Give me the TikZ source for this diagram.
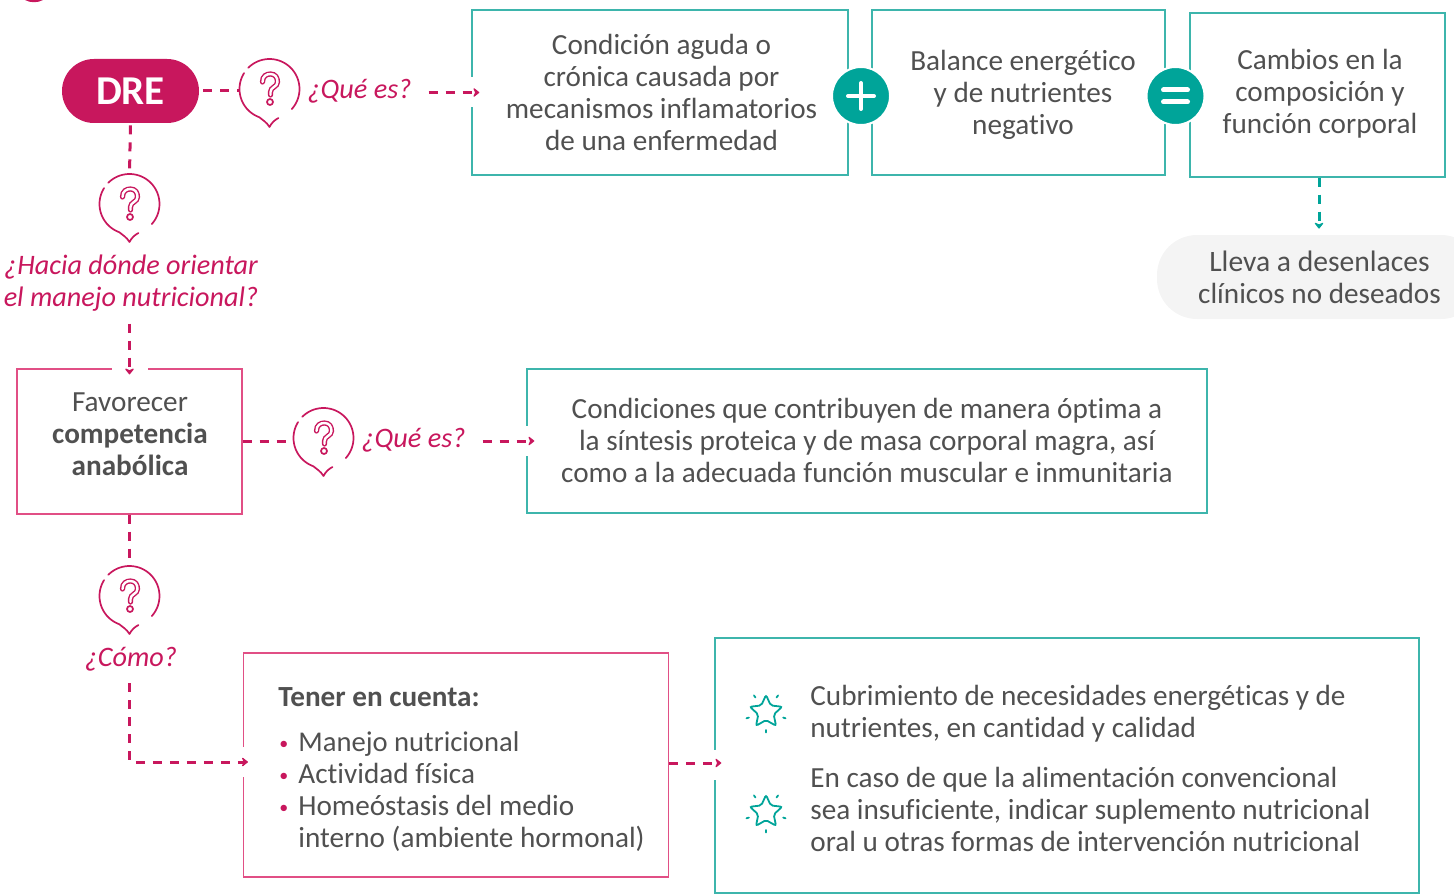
\documentclass[tikz,border=0pt]{standalone}
\usepackage{fontspec}
\setmainfont[Ligatures=NoCommon]{Carlito}
\usetikzlibrary{arrows.meta,shapes.geometric}
\definecolor{dreRed}{HTML}{C8175D}
\definecolor{tealDark}{HTML}{00A499}
\definecolor{tealLine}{HTML}{3DB5AC}
\definecolor{pinkLine}{HTML}{E14F85}
\definecolor{bodyGray}{HTML}{505050}
\definecolor{pillGray}{HTML}{F4F4F4}
\tikzset{
  tealbox/.style={draw=tealLine, line width=0.7pt, minimum height=#1, inner sep=0pt},
  pinkbox/.style={draw=pinkLine, line width=0.6pt, minimum height=#1, inner sep=0pt},
  bodytxt/.style={text=bodyGray, font=\fontsize{14.6}{16}\selectfont, align=center, inner sep=0pt},
  asktxt/.style={text=dreRed, font=\fontsize{14.1}{16}\selectfont\itshape, align=center, inner sep=0pt},
  pinkdash/.style={draw=dreRed, line width=1.5pt, dash pattern=on 4.5pt off 4pt},
  tealdash/.style={draw=tealDark, line width=1.5pt, dash pattern=on 4.5pt off 4pt},
  tipped/.style={-{Stealth[length=3.5pt,width=5.5pt,inset=1.2pt,round]}},
  gapcut/.style={draw=white, line width=2pt},
  opnode/.style={circle, fill=tealDark, draw=white, line width=1pt, minimum size=29pt, inner sep=0pt},
  qnode/.style={circle, minimum size=30pt, inner sep=0pt},
  qline/.style={draw=dreRed, line width=0.85pt, line cap=round, line join=round},
  starnode/.style={star, star points=5, star point ratio=2.1, draw=tealDark, line width=0.9pt,
    rounded corners=1pt, minimum size=17pt, inner sep=0pt}
}
\begin{document}
\begin{tikzpicture}[x=0.5pt, y=-0.5pt]
\useasboundingbox (0,0) rectangle (1454,893);
\fill[dreRed] (25,0) .. controls (30,3) and (38,3) .. (43,0) -- cycle;

% top row
\node[tealbox=82.5pt, minimum width=188pt] (cond) at (660,92.5) {};
\node[tealbox=82.5pt, minimum width=146.5pt] (bal) at (1018.5,92.5) {};
\node[tealbox=82pt, minimum width=127.5pt] (camb) at (1317.5,95) {};
\node[bodytxt] at (661.5,92) {Condición aguda o\\crónica causada por\\mecanismos inflamatorios\\de una enfermedad};
\node[bodytxt] at (1023,95) {Balance energético\\y de nutrientes\\negativo};
\node[bodytxt] at (1320,94) {Cambios en la\\composición y\\función corporal};
\node[opnode] (plus) at (861,96) {};
\draw[white, line width=2pt, line cap=round] (848,96) -- (874,96) (861,83) -- (861,109);
\node[opnode] (equal) at (1175.5,96) {};
\draw[white, line width=2.5pt, line cap=round] (1163.5,90) -- (1187.5,90) (1163.5,102) -- (1187.5,102);

\node[fill=pillGray, rounded corners=20pt, minimum width=162pt, minimum height=42pt, inner sep=0pt] (pill) at (1319,277) {};
\path[fill=white] (1454,220) rectangle (1500,330);
\node[bodytxt] (lleva) at (1319.5,277) {\fontsize{14.8}{16}\selectfont Lleva a desenlaces\\clínicos no deseados};
\draw[tealdash, tipped, shorten >=3pt] (camb.south -| pill) -- (pill.north);

% DRE
\node[fill=dreRed, text=white, rounded corners=16pt, minimum width=68.5pt, minimum height=32pt,
  inner sep=0pt, font=\fontsize{20.5}{22}\selectfont\bfseries] (dre) at (130.5,91) {DRE};

% question bubbles
\foreach \nm/\cx/\cy in {qa/269.5/89, qb/129.5/204, qc/323.5/438, qd/129.5/596} {
  \begin{scope}[shift={(\cx,\cy)}]
    \node[qnode] (\nm) at (0,0) {};
    \draw[qline] plot[domain=42:-135, samples=40] ({30*cos(\x)},{30*sin(\x)});
    \draw[qline] plot[domain=212:110, samples=30] ({30*cos(\x)},{30*sin(\x)})
      .. controls (-7,31) and (-3,33) .. (0,38) .. controls (2,34) and (5,31) .. (9,29);
    \draw[draw=dreRed, line width=0.7pt, double=white, double distance=1.2pt, line cap=round]
      (-7,-7) .. controls (-7,-13) and (-3,-15) .. (1,-15) .. controls (6,-15) and (8,-11) .. (8,-7)
      .. controls (8,-2) and (1,-2) .. (1,3) -- (1,6);
    \draw[qline] (0.5,13) circle[radius=3];
  \end{scope}
}

\node[asktxt] (askqa) at (359.5,91) {¿Qué es?};
\node[asktxt] (askqb) at (131,283) {¿Hacia dónde orientar\\el manejo nutricional?};
\node[asktxt] (askqc) at (413.5,440) {¿Qué es?};
\node[asktxt] (askqd) at (131,659) {¿Cómo?};

% middle row
\node[pinkbox=72.5pt, minimum width=112.5pt] (fav) at (129.5,441.5) {};
\node[bodytxt] at (130,434) {Favorecer\\\textbf{competencia}\\\textbf{anabólica}};
\node[tealbox=72pt, minimum width=340pt] (cdn) at (867,441) {};
\node[bodytxt] at (867,440) {Condiciones que contribuyen de manera óptima a\\la síntesis proteica y de masa corporal magra, así\\como a la adecuada función muscular e inmunitaria};

% bottom row
\node[pinkbox=112pt, minimum width=212.5pt] (ten) at (456,765) {};
\node[tealbox=127.5pt, minimum width=352pt] (cub) at (1067,765.5) {};
\node[bodytxt, anchor=west, font=\fontsize{14.6}{16}\selectfont\bfseries] (tentit) at (278,697) {Tener en cuenta:};
\node[bodytxt, anchor=north west, align=left] (tenlist) at (298,731) {%
  \fontsize{14.3}{16}\selectfont
  \llap{\textcolor{dreRed}{\raisebox{1pt}{\small•}}\hspace{5pt}}Manejo nutricional\\
  \llap{\textcolor{dreRed}{\raisebox{1pt}{\small•}}\hspace{5pt}}Actividad física\\
  \llap{\textcolor{dreRed}{\raisebox{1pt}{\small•}}\hspace{5pt}}Homeóstasis del medio\\
  interno (ambiente hormonal)};
\node[bodytxt, anchor=west, align=left] at (810,714) {Cubrimiento de necesidades energéticas y de\\nutrientes, en cantidad y calidad};
\node[bodytxt, anchor=west, align=left] at (810,809) {En caso de que la alimentación convencional\\sea insuficiente, indicar suplemento nutricional\\oral u otras formas de intervención nutricional};
\foreach \nm/\cy in {stara/712, starb/812} {
  \node[starnode] (\nm) at (766,\cy) {};
  \foreach \a in {18,90,162,234,306}
    \draw[draw=tealDark, line width=0.9pt, line cap=round] (\nm.center) ++(\a:18) -- ++(\a:2.5);
}

% gaps in the box edges
\draw[gapcut] ([yshift=7.5pt]cond.west) -- ([yshift=-7.5pt]cond.west);
\draw[gapcut] ([yshift=7.5pt]cdn.west) -- ([yshift=-7.5pt]cdn.west);
\draw[gapcut] ([xshift=-9pt]fav.north) -- ([xshift=9pt]fav.north);
\draw[gapcut] ([yshift=9pt]ten.west) -- ([yshift=-6pt]ten.west);
\draw[gapcut] ([yshift=8pt]cub.west) -- ([yshift=-7pt]cub.west);

% connectors
\draw[pinkdash, shorten <=2pt] (dre.east) -- (dre.east -| qa.west);
\draw[pinkdash, shorten <=1pt] (dre.south) -- (qb.north);
\draw[pinkdash, tipped, shorten <=8.5pt, shorten >=-4pt] (askqa.east |- cond.west) -- (cond.west);
\draw[pinkdash, tipped, shorten >=-3pt] (askqb.south -| fav.north) ++(0,12) -- (fav.north);
\draw[pinkdash] (fav.east) -- (fav.east -| qc.west);
\draw[pinkdash, tipped, shorten <=8.5pt, shorten >=-4pt] (askqc.east |- cdn.west) -- (cdn.west);
\draw[pinkdash] (fav.south) -- (qd.north);
\draw[pinkdash, tipped, shorten >=-2.5pt] (askqd.south -| fav.south) ++(0,12) |- ([yshift=1.5pt]ten.west);
\draw[pinkdash, tipped, shorten >=-3.5pt] ([yshift=1pt]ten.east) -- ([yshift=1pt]ten.east -| cub.west);
\end{tikzpicture}
\end{document}
